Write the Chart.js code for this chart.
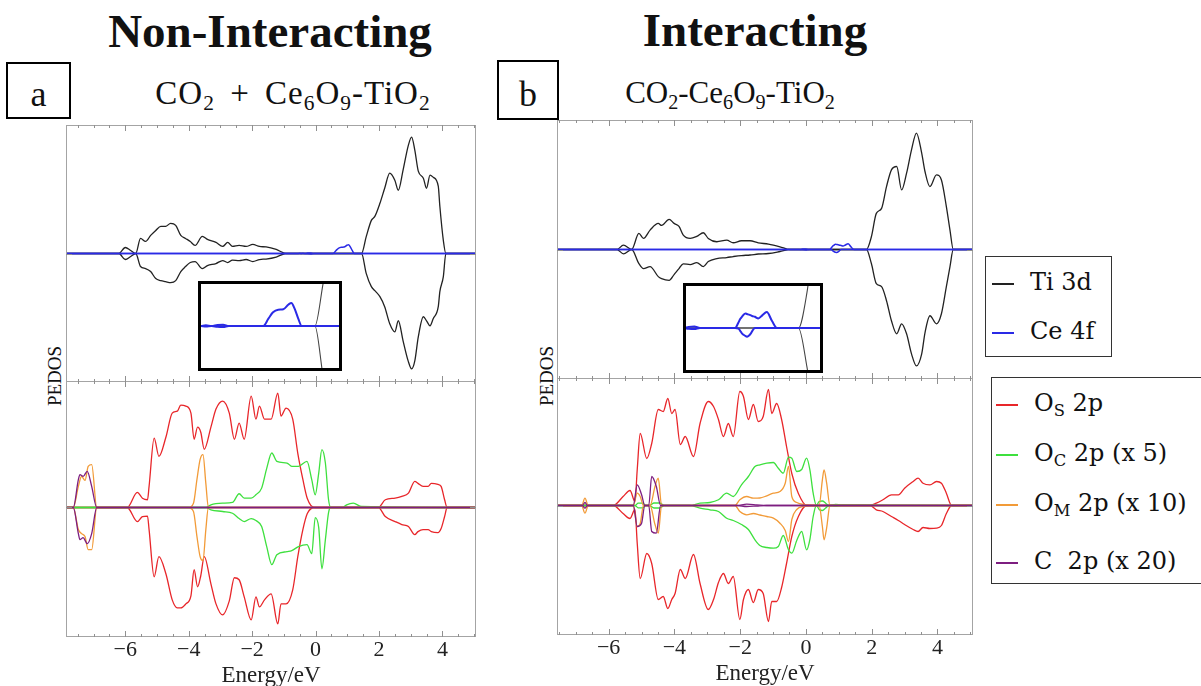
<!DOCTYPE html>
<html>
<head>
<meta charset="utf-8">
<script src="https://cdn.jsdelivr.net/npm/chart.js@4.4.1/dist/chart.umd.min.js"></script>
<style>
  html, body { margin: 0; padding: 0; background: #fff; }
  body { width: 1201px; height: 686px; overflow: hidden; position: relative; font-family: "Liberation Serif", serif; color: #111; }
  canvas, .abs { position: absolute; }
  .ttl { font-weight: bold; font-size: 47px; line-height: 1; text-align: center; white-space: nowrap; }
  .sub { font-size: 31px; line-height: 1; text-align: center; white-space: nowrap; }
  .sub sub { font-size: 65%; vertical-align: -0.28em; line-height: 0; }
  .tag { border: 2px solid #000; box-sizing: border-box; text-align: center; font-size: 36px; line-height: 1; }
  .pedos { width: 100px; height: 24px; line-height: 24px; font-size: 19px; text-align: center; transform: rotate(-90deg); }
  .inset { border: 3px solid #000; box-sizing: border-box; background: #fff; }
  .inset canvas { position: static; display: block; }
  .leg { border: 1.5px solid #333; box-sizing: border-box; background: #fff; font-family: "DejaVu Serif", serif; font-size: 24px; }
  .row { position: absolute; height: 24px; line-height: 24px; white-space: pre; }
  .row i { display: inline-block; width: 22px; height: 0; border-top: 2px solid; margin-right: 16px; vertical-align: middle; }
  .row sub { font-size: 68%; vertical-align: -0.3em; line-height: 0; }
</style>
</head>
<body>

<div class="abs ttl" style="left:70px;top:8px;width:400px;">Non-Interacting</div>
<div class="abs ttl" style="left:555px;top:7px;width:400px;">Interacting</div>

<div class="abs tag" style="left:6px;top:62px;width:65px;height:57px;padding-top:12px;">a</div>
<div class="abs tag" style="left:497px;top:60px;width:62px;height:60px;padding-top:14px;">b</div>

<div class="abs sub" style="left:143px;top:77px;width:300px;font-size:33px;word-spacing:6px;letter-spacing:1px;">CO<sub>2</sub> + Ce<sub>6</sub>O<sub>9</sub>-TiO<sub>2</sub></div>
<div class="abs sub" style="left:580px;top:77px;width:300px;">CO<sub>2</sub>-Ce<sub>6</sub>O<sub>9</sub>-TiO<sub>2</sub></div>

<div class="abs pedos" style="left:5px;top:364px;">PEDOS</div>
<div class="abs pedos" style="left:497px;top:364px;">PEDOS</div>

<canvas id="aTop" width="410" height="257" style="left:66px;top:125px;"></canvas>
<canvas id="aBot" width="410" height="309" style="left:66px;top:381px;"></canvas>
<canvas id="bTop" width="416" height="259" style="left:557px;top:120px;"></canvas>
<canvas id="bBot" width="416" height="310" style="left:557px;top:378px;"></canvas>

<div class="abs inset" style="left:198px;top:281px;width:144px;height:90px;"><canvas id="aIn" width="138" height="84"></canvas></div>
<div class="abs inset" style="left:683px;top:283px;width:140px;height:90px;"><canvas id="bIn" width="134" height="84"></canvas></div>

<div class="abs leg" style="left:985px;top:256px;width:127px;height:101px;">
  <div class="row" style="left:6px;top:13px;"><i style="color:#222"></i>Ti 3d</div>
  <div class="row" style="left:6px;top:62px;"><i style="color:#2a2ae6"></i>Ce 4f</div>
</div>
<div class="abs leg" style="left:991px;top:377px;width:230px;height:207px;">
  <div class="row" style="left:4px;top:13px;"><i style="color:#e8262a"></i>O<sub>S</sub> 2p</div>
  <div class="row" style="left:4px;top:63px;"><i style="color:#3ee03e"></i>O<sub>C</sub> 2p (x 5)</div>
  <div class="row" style="left:4px;top:113px;"><i style="color:#f29b38"></i>O<sub>M</sub> 2p (x 10)</div>
  <div class="row" style="left:4px;top:171px;"><i style="color:#7d1e80"></i>C  2p (x 20)</div>
</div>

<script>
// energy axis
var energyTicks = [-6, -4, -2, 0, 2, 4];
var rangeA = [-7.87, 5.06];
var rangeB = [-7.57, 5.08];

// ---- a : non interacting ----
// Ti 3d
var tiE_a  = [-8, -6.2, -6.0, -5.83, -5.67, -5.52, -5.36, -5.2, -5.04, -4.88, -4.73, -4.57, -4.41, -4.25, -4.1, -3.95, -3.8, -3.57, -3.41, -3.14, -2.93, -2.77, -2.62, -2.41, -2.19, -1.98, -1.77, -1.56, -1.24, -0.93, 1.45, 1.6, 1.76, 1.87, 2.03, 2.18, 2.34, 2.5, 2.61, 2.76, 2.92, 3.03, 3.13, 3.24, 3.4, 3.5, 3.61, 3.71, 3.87, 3.92, 4.03, 4.11, 5.2];
var tiUp_a = [0, 0, 0.6, 0.3, 0, 1.5, 1.2, 1.8, 2.3, 2.7, 2.7, 3.0, 2.8, 1.8, 1.5, 1.2, 0.8, 1.7, 1.4, 1.1, 0.7, 1.1, 0.7, 0.8, 0.7, 0.9, 0.7, 0.65, 0.4, 0, 0, 1.7, 3.3, 3.7, 5.0, 6.5, 8.0, 7.3, 6.3, 8.3, 10.7, 11.6, 10.3, 8.2, 7.5, 6.5, 7.8, 7.6, 6.7, 4.7, 1.3, 0, 0];
var tiDn_a = [0, 0, -0.6, -0.3, 0, -1.3, -1.5, -1.8, -2.5, -2.7, -2.8, -2.9, -2.7, -1.8, -1.3, -0.9, -0.8, -1.5, -1.2, -1.0, -0.7, -0.9, -0.65, -0.7, -0.6, -0.8, -0.6, -0.55, -0.35, 0, 0, -2.0, -3.3, -3.7, -4.3, -5.3, -7.0, -7.8, -6.7, -8.7, -10.7, -11.5, -10.7, -8.3, -6.3, -6.7, -7.2, -6.5, -5.3, -3.8, -2.3, 0, 0];
// Ce 4f
var ceE_a  = [-8, -0.55, -0.45, -0.35, -0.25, -0.15, -0.05, 0.55, 0.64, 0.72, 0.81, 0.90, 0.99, 1.04, 1.10, 1.16, 1.22, 5.2];
var ceUp_a = [0, 0, 0.03, 0, 0.04, 0.05, 0, 0, 0.28, 0.52, 0.62, 0.64, 0.82, 0.88, 0.64, 0.28, 0, 0];
var ceDn_a = [0, 0, -0.02, 0, -0.03, -0.04, 0, 0, 0, 0, 0, 0, 0, 0, 0, 0, 0, 0];
// Os 2p
var osE_a  = [-8, -5.94, -5.62, -5.46, -5.30, -5.25, -5.09, -4.94, -4.72, -4.52, -4.36, -4.25, -4.09, -3.93, -3.83, -3.72, -3.62, -3.51, -3.30, -3.14, -2.93, -2.72, -2.56, -2.41, -2.25, -2.03, -1.88, -1.77, -1.61, -1.40, -1.19, -1.09, -0.93, -0.72, -0.56, -0.40, -0.26, -0.03, 1.98, 2.2, 2.51, 2.72, 2.93, 3.13, 3.23, 3.39, 3.55, 3.65, 3.86, 3.96, 4.07, 4.15, 5.2];
var osUp_a = [0, 0, 1.5, 0.93, 0.77, 2.1, 6.9, 5.1, 7.0, 9.4, 9.6, 10.2, 10.1, 9.4, 6.8, 8.0, 7.5, 5.8, 8.0, 9.8, 10.6, 9.4, 6.8, 8.4, 6.8, 11.1, 8.8, 10.1, 8.8, 8.8, 11.4, 9.1, 9.9, 8.8, 5.4, 2.8, 0.9, 0, 0, 0.77, 0.93, 1.1, 1.43, 2.6, 2.4, 2.1, 2.1, 2.4, 2.3, 2.1, 0.77, 0, 0];
var osDn_a = [0, 0, -1.4, -0.9, -0.85, -2.2, -6.9, -4.9, -6.6, -9.2, -10.0, -10.0, -9.6, -8.8, -6.2, -7.9, -6.8, -4.9, -7.6, -9.6, -10.7, -9.3, -7.0, -7.2, -8.9, -11.2, -8.9, -9.9, -9.2, -8.6, -11.6, -9.6, -9.6, -8.2, -4.9, -2.2, -0.6, 0, 0, -0.9, -1.4, -1.7, -1.9, -2.7, -2.4, -2.2, -2.2, -2.4, -2.5, -2.1, -0.9, 0, 0];
// Oc 2p (x5)
var ocE_a  = [-8, -3.46, -3.30, -2.93, -2.62, -2.41, -2.25, -2.03, -1.88, -1.70, -1.54, -1.38, -1.22, -0.90, -0.75, -0.54, -0.27, -0.12, -0.01, 0.10, 0.20, 0.31, 0.41, 0.48, 0.85, 0.98, 1.19, 1.45, 5.2];
var ocUp_a = [0, 0, 0.27, 0.43, 0.5, 1.37, 0.93, 0.93, 1.27, 1.93, 3.9, 5.43, 4.6, 4.43, 4.1, 4.1, 4.6, 2.77, 1.27, 3.43, 5.77, 4.43, 0.77, 0, 0, 0.27, 0.43, 0.1, 0];
var ocDn_a = [0, 0, -0.23, -0.4, -0.57, -1.1, -1.4, -1.1, -1.3, -1.9, -3.9, -5.7, -4.7, -4.4, -4.3, -3.9, -3.7, -4.6, -1.0, -2.0, -6.1, -3.2, -0.5, 0, 0, 0, 0, 0, 0];
// Om 2p (x10)
var omE_a  = [-8, -7.64, -7.48, -7.38, -7.27, -7.17, -7.06, -6.90, -4.01, -3.85, -3.74, -3.64, -3.55, -3.46, -3.38, 5.2];
var omUp_a = [0, 0, 2.1, 3.1, 2.7, 4.1, 4.27, 0, 0, 0.43, 2.8, 4.8, 5.27, 2.4, 0, 0];
var omDn_a = [0, 0, -2.2, -2.6, -2.9, -4.2, -4.2, 0, 0, -0.4, -2.9, -4.9, -5.3, -2.2, 0, 0];
// C 2p (x20)
var cE_a  = [-8, -7.64, -7.48, -7.43, -7.33, -7.20, -7.06, -6.90, 5.2];
var cUp_a = [0, 0, 2.77, 3.27, 3.1, 3.6, 2.1, 0, 0];
var cDn_a = [0, 0, -2.6, -3.2, -3.0, -3.6, -2.6, 0, 0];

// ---- b : interacting ----
var tiE_b  = [-8, -5.75, -5.55, -5.30, -5.08, -4.94, -4.74, -4.49, -4.39, -4.16, -4.01, -3.86, -3.73, -3.52, -3.32, -3.12, -2.97, -2.71, -2.41, -2.21, -1.96, -1.70, -1.45, -1.14, -0.79, -0.49, 1.84, 1.99, 2.14, 2.30, 2.45, 2.60, 2.76, 2.91, 3.06, 3.21, 3.36, 3.52, 3.62, 3.77, 3.97, 4.12, 4.27, 4.38, 4.48, 5.2];
var tiUp_b = [0, 0, 0.43, 0, 1.6, 1.1, 1.93, 2.6, 2.4, 3.0, 2.6, 2.3, 1.43, 1.1, 1.3, 1.67, 1.1, 0.77, 0.93, 0.67, 0.87, 0.87, 0.67, 0.53, 0.27, 0, 0, 1.27, 3.6, 4.1, 6.27, 7.93, 8.27, 5.93, 7.6, 9.93, 11.6, 9.6, 7.77, 6.27, 7.43, 6.93, 4.27, 1.93, 0, 0];
var tiDn_b = [0, 0, -0.43, 0, -1.4, -1.9, -1.7, -2.7, -2.9, -3.07, -2.5, -1.9, -1.43, -1.5, -1.3, -1.7, -1.2, -0.9, -0.8, -0.7, -0.6, -0.55, -0.45, -0.4, -0.2, 0, 0, -1.4, -3.4, -3.7, -5.1, -7.1, -8.4, -7.4, -8.4, -10.4, -11.6, -10.4, -8.3, -6.6, -7.4, -6.4, -3.7, -1.7, 0, 0];
var ceE_b  = [-8, -0.2, -0.1, 0.0, 0.1, 0.72, 0.78, 0.81, 0.84, 0.90, 0.93, 1.0, 1.02, 1.07, 1.13, 1.20, 1.28, 1.37, 1.46, 5.2];
var ceUp_b = [0, 0, 0.04, 0.05, 0, 0, 0.2, 0.32, 0.4, 0.52, 0.5, 0.45, 0.43, 0.4, 0.34, 0.45, 0.57, 0.26, 0, 0];
var ceDn_b = [0, 0, -0.03, -0.04, 0, 0, -0.02, -0.1, -0.19, -0.28, -0.31, -0.19, -0.12, 0, 0, 0, 0, 0, 0, 0];
var osE_b  = [-8, -5.86, -5.56, -5.35, -5.20, -5.13, -5.04, -4.84, -4.69, -4.49, -4.34, -4.20, -4.08, -3.98, -3.82, -3.67, -3.42, -3.22, -2.97, -2.81, -2.66, -2.51, -2.36, -2.21, -2.01, -1.90, -1.75, -1.60, -1.45, -1.30, -1.14, -1.04, -0.89, -0.74, -0.59, -0.43, -0.23, 0.02, 1.95, 2.14, 2.34, 2.60, 2.81, 3.00, 3.26, 3.41, 3.56, 3.77, 3.97, 4.12, 4.27, 4.43, 5.2];
var osUp_b = [0, 0, 0.9, 1.5, 0.4, 3.6, 7.2, 4.7, 6.2, 9.6, 9.4, 10.7, 9.2, 9.6, 6.1, 6.9, 4.9, 8.2, 10.4, 9.9, 8.6, 6.9, 8.2, 6.9, 11.4, 10.9, 8.6, 10.1, 8.4, 8.9, 11.6, 9.2, 10.2, 8.6, 5.9, 3.2, 1.2, 0, 0, 0.23, 0.57, 1.07, 1.07, 1.73, 2.4, 2.73, 2.23, 2.07, 2.4, 2.23, 1.23, 0, 0];
var osDn_b = [0, 0, -0.8, -1.3, -0.4, -3.8, -7.3, -4.8, -5.8, -9.4, -9.1, -10.3, -9.4, -8.8, -6.4, -7.3, -4.9, -7.8, -10.4, -9.4, -7.7, -6.8, -7.8, -7.1, -11.4, -9.4, -8.4, -9.7, -8.4, -8.8, -11.6, -9.6, -9.6, -8.2, -5.8, -3.1, -1.1, 0, 0, -0.43, -0.6, -1.1, -1.5, -1.9, -2.4, -2.6, -2.2, -2.3, -2.27, -2.0, -0.8, 0, 0];
var ocE_b  = [-8, -5.20, -5.10, -4.98, -4.86, -4.76, -4.62, -4.45, -4.30, -3.53, -3.22, -2.92, -2.66, -2.41, -2.21, -1.96, -1.75, -1.55, -1.40, -1.19, -0.99, -0.84, -0.69, -0.53, -0.43, -0.28, -0.13, 0.02, 0.12, 0.22, 0.32, 0.40, 0.50, 0.60, 0.70, 0.90, 1.10, 5.2];
var ocUp_b = [0, 0, 0.23, 0.23, 0, 0, 0.25, 0.25, 0, 0, 0.23, 0.3, 0.57, 1.23, 0.9, 2.07, 2.9, 3.9, 4.07, 4.23, 4.3, 3.73, 3.23, 4.83, 4.73, 3.4, 3.6, 4.73, 3.57, 1.23, 0, 0.4, 0.45, 0.23, 0, 0.1, 0.05, 0];
var ocDn_b = [0, 0, -0.23, -0.23, 0, 0, -0.25, -0.25, 0, 0, -0.27, -0.43, -0.6, -1.27, -1.5, -1.9, -2.4, -3.43, -4.0, -4.2, -4.27, -4.1, -3.0, -4.43, -4.77, -3.5, -2.6, -4.43, -3.4, -1.1, 0, -0.4, -0.5, -0.25, 0, -0.05, 0, 0];
var omE_b  = [-8, -6.82, -6.72, -6.62, -5.25, -5.13, -5.04, -4.94, -4.74, -4.59, -4.49, -4.39, -2.16, -2.01, -1.80, -1.60, -1.40, -1.19, -0.99, -0.79, -0.63, -0.53, -0.43, -0.28, -0.08, 0.40, 0.50, 0.55, 0.63, 0.73, 5.2];
var omUp_b = [0, 0, 0.73, 0, 0, 1.23, 0.9, 0, 0, 1.9, 2.73, 0, 0, 0.57, 0.9, 0.73, 0.75, 0.97, 1.23, 1.4, 2.23, 3.9, 0.9, 0.3, 0.1, 0, 2.57, 3.57, 2.23, 0, 0];
var omDn_b = [0, 0, -0.77, 0, 0, -2.1, -1.8, 0, 0, -1.9, -2.77, 0, 0, -0.6, -0.93, -0.8, -0.95, -1.1, -1.27, -1.77, -2.5, -3.6, -1.4, -0.4, -0.1, 0, -2.1, -3.43, -2.23, 0, 0];
var cE_b  = [-8, -6.80, -6.72, -6.64, -5.25, -5.13, -5.00, -4.90, -4.78, -4.69, -4.55, -4.42, -2.1, -1.8, -1.5, -1.2, 5.2];
var cUp_b = [0, 0, 0.3, 0, 0, 2.07, 1.1, 0, 0, 2.9, 1.9, 0, 0, 0.13, 0.07, 0, 0];
var cDn_b = [0, 0, -0.27, 0, 0, -2.1, -1.8, 0, 0, -2.6, -2.77, 0, 0, -0.1, -0.05, 0, 0];

var colTi = '#222222', colCe = '#2a2ae6', colOs = '#e8262a', colOc = '#3ee03e', colOm = '#f29b38', colC = '#7d1e80';

// frame + inward ticks, mathematica style
var frame = {
  id: 'frame',
  afterDraw: function(chart, args, o) {
    if (!o.on) return;
    var ctx = chart.ctx, a = chart.chartArea, x = chart.scales.x, y = chart.scales.y;
    ctx.save();
    ctx.strokeStyle = '#a4a4a4';
    ctx.lineWidth = 1;
    ctx.strokeRect(a.left + 0.5, a.top + 0.5, a.right - a.left - 1, a.bottom - a.top - 1);
    ctx.strokeStyle = '#909090';
    ctx.beginPath();
    for (var k = Math.ceil(x.min * 2); k <= Math.floor(x.max * 2); k++) {
      var px = Math.round(x.getPixelForValue(k / 2)) + 0.5;
      var len = (k % 4 === 0) ? 6 : 3;
      ctx.moveTo(px, a.bottom); ctx.lineTo(px, a.bottom - len);
      ctx.moveTo(px, a.top); ctx.lineTo(px, a.top + len);
    }
    var py = Math.round(y.getPixelForValue(0)) + 0.5;
    ctx.moveTo(a.left, py); ctx.lineTo(a.left + 6, py);
    ctx.moveTo(a.right, py); ctx.lineTo(a.right - 6, py);
    ctx.stroke();
    ctx.restore();
  }
};

function pts(E, v) {
  return E.map(function(e, i) { return {x: e, y: v[i]}; });
}
function spin(E, up, dn, color, w, order) {
  return [up, dn].map(function(v) {
    return { data: pts(E, v), borderColor: color, borderWidth: w, pointRadius: 0,
             cubicInterpolationMode: 'monotone', fill: false, order: order };
  });
}

function dos(id, xr, yr, sets, withAxis, withFrame) {
  var xs = { type: 'linear', min: xr[0], max: xr[1], display: false };
  if (withAxis) {
    xs = {
      type: 'linear', min: xr[0], max: xr[1], display: true,
      grid: { display: false, drawTicks: false }, border: { display: false },
      afterBuildTicks: function(s) { s.ticks = energyTicks.map(function(v) { return {value: v}; }); },
      afterFit: function(s) { s.height = 53; },
      ticks: {
        padding: 0, autoSkip: false, maxRotation: 0, color: '#222',
        font: { family: 'Liberation Serif', size: 22 },
        callback: function(v) { return v < 0 ? '\u2212' + (-v) : '' + v; }
      },
      title: { display: true, text: 'Energy/eV', color: '#222', padding: 0,
               font: { family: 'Liberation Serif', size: 23 } }
    };
  }
  return new Chart(document.getElementById(id), {
    type: 'line',
    data: { datasets: sets },
    options: {
      responsive: false, animation: false, devicePixelRatio: 1, events: [],
      layout: { padding: 0 },
      plugins: { legend: { display: false }, tooltip: { enabled: false }, frame: { on: withFrame } },
      scales: { x: xs, y: { type: 'linear', min: yr[0], max: yr[1], display: false } }
    },
    plugins: [frame]
  });
}

// a
dos('aTop', rangeA, [-12.8, 12.8],
    spin(tiE_a, tiUp_a, tiDn_a, colTi, 1.3, 2).concat(spin(ceE_a, ceUp_a, ceDn_a, colCe, 1.5, 1)), false, true);
dos('aBot', rangeA, [-12.9, 12.6],
    spin(osE_a, osUp_a, osDn_a, colOs, 1.3, 4)
      .concat(spin(ocE_a, ocUp_a, ocDn_a, colOc, 1.3, 3))
      .concat(spin(omE_a, omUp_a, omDn_a, colOm, 1.3, 2))
      .concat(spin(cE_a, cUp_a, cDn_a, colC, 1.3, 1)), true, true);
dos('aIn', [-0.535, 1.87], [-1.6, 1.6],
    spin(tiE_a, tiUp_a, tiDn_a, '#444', 1.1, 2).concat(spin(ceE_a, ceUp_a, ceDn_a, colCe, 2, 1)), false, false);

// b
dos('bTop', rangeB, [-12.9, 12.9],
    spin(tiE_b, tiUp_b, tiDn_b, colTi, 1.3, 2).concat(spin(ceE_b, ceUp_b, ceDn_b, colCe, 1.5, 1)), false, true);
dos('bBot', rangeB, [-12.95, 12.75],
    spin(osE_b, osUp_b, osDn_b, colOs, 1.3, 4)
      .concat(spin(ocE_b, ocUp_b, ocDn_b, colOc, 1.3, 3))
      .concat(spin(omE_b, omUp_b, omDn_b, colOm, 1.3, 2))
      .concat(spin(cE_b, cUp_b, cDn_b, colC, 1.3, 1)), true, true);
dos('bIn', [-0.147, 2.22], [-1.5, 1.5],
    spin(tiE_b, tiUp_b, tiDn_b, '#444', 1.1, 2).concat(spin(ceE_b, ceUp_b, ceDn_b, colCe, 2, 1)), false, false);
</script>
</body>
</html>
